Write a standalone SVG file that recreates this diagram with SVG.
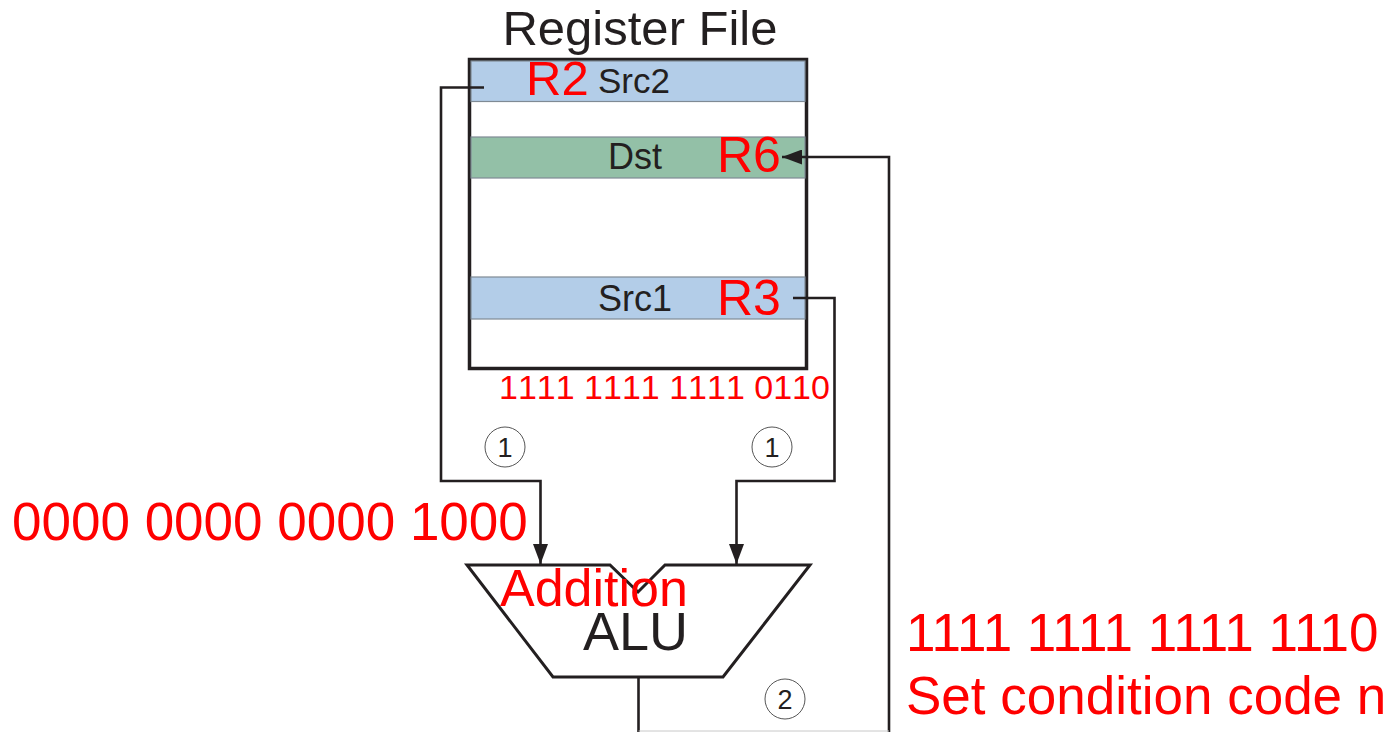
<svg xmlns="http://www.w3.org/2000/svg" width="1391" height="732" viewBox="0 0 1391 732">
  <defs>
    <marker id="arrow" viewBox="0 0 20 15" refX="20" refY="7.5" markerWidth="20" markerHeight="15" markerUnits="userSpaceOnUse" orient="auto">
      <path d="M0,0 L20,7.5 L0,15 Z" fill="#231f20"/>
    </marker>
    <style>
      .lbl { font-family: "Liberation Sans", Arial, sans-serif; fill: #231f20; }
      .red { font-family: "Liberation Sans", Arial, sans-serif; fill: #ff0000; }
      .nokern { font-kerning: none; }
      .wire { fill: none; stroke: #231f20; stroke-width: 2.6; }
      .band { stroke: #7f8a94; stroke-width: 1.2; }
      .step { fill: #ffffff; stroke: #555555; stroke-width: 1; }
    </style>
  </defs>

  <rect width="1391" height="732" fill="#ffffff"/>

  <!-- register file -->
  <g id="register-file">
    <text class="lbl" x="640" y="45" font-size="49" text-anchor="middle">Register File</text>
    <rect x="469.5" y="59.5" width="337" height="309" fill="#ffffff" stroke="#231f20" stroke-width="3.5"/>
  </g>

  <g id="src2">
    <rect class="band" x="471" y="61" width="334" height="40.5" fill="#b3cde8"/>
    <text class="lbl" x="598" y="93" font-size="35">Src2</text>
    <text class="red" x="526" y="95" font-size="49">R2</text>
  </g>

  <g id="dst">
    <rect class="band" x="471" y="137" width="334" height="41" fill="#93c0a7"/>
    <text class="lbl" x="608" y="169" font-size="36">Dst</text>
    <text class="red" x="717" y="172" font-size="50">R6</text>
  </g>

  <g id="src1">
    <rect class="band" x="471" y="277" width="334" height="42" fill="#b3cde8"/>
    <text class="lbl" x="598" y="311" font-size="36">Src1</text>
    <text class="red" x="717" y="315" font-size="50">R3</text>
  </g>

  <g id="src1-value">
    <text class="red nokern" x="499" y="399" font-size="34">1111 1111 1111 0110</text>
  </g>

  <g id="src2-value">
    <text class="red" x="12" y="540" font-size="53">0000 0000 0000 1000</text>
  </g>

  <!-- ALU -->
  <g id="alu">
    <path d="M467,565 L610,565 L638,592 L665,565 L810,565 L723,677 L553,677 Z" fill="#ffffff" stroke="#231f20" stroke-width="3" stroke-linejoin="miter"/>
    <text class="red" x="500" y="606" font-size="52">Addition</text>
    <text class="lbl" x="583" y="650" font-size="54">ALU</text>
  </g>

  <g id="result">
    <text class="red" x="906" y="651" font-size="53">1111 1111 1111 1110</text>
    <text class="red" x="906" y="714" font-size="53">Set condition code n</text>
  </g>

  <!-- step markers -->
  <g id="step-1a">
    <circle class="step" cx="505" cy="447" r="20"/>
    <text class="lbl" x="505" y="457" font-size="27" text-anchor="middle">1</text>
  </g>
  <g id="step-1b">
    <circle class="step" cx="772" cy="447" r="20"/>
    <text class="lbl" x="772" y="457" font-size="27" text-anchor="middle">1</text>
  </g>
  <g id="step-2">
    <circle class="step" cx="785" cy="699" r="20"/>
    <text class="lbl" x="785" y="709" font-size="27" text-anchor="middle">2</text>
  </g>

  <!-- connectors -->
  <g id="connectors">
    <path class="wire" d="M484,87.5 L441,87.5 L441,481 L540.5,481 L540.5,564" marker-end="url(#arrow)"/>
    <path class="wire" d="M793,298 L834.5,298 L834.5,481 L736.5,481 L736.5,564" marker-end="url(#arrow)"/>
    <path class="wire" d="M638.5,677 L638.5,732"/>
    <path class="wire" d="M889,732 L889,157 L782,157" marker-end="url(#arrow)"/>
    <line x1="638.5" y1="731" x2="889" y2="731" stroke="#c8c8c8" stroke-width="1"/>
  </g>
</svg>
